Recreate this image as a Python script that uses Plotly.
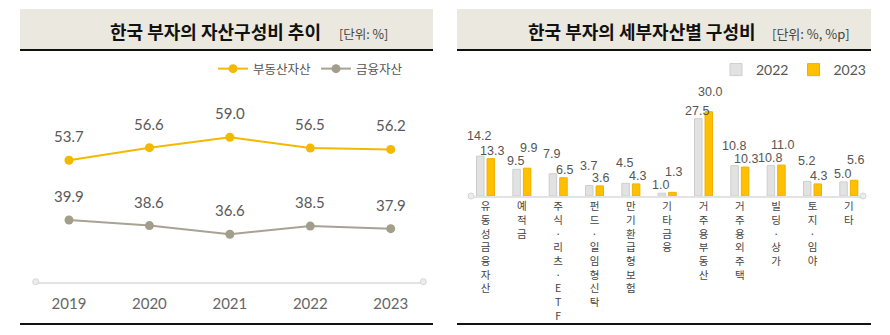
import plotly.graph_objects as go

W, H = 890, 335

# ---------------- data ----------------
years = ["2019", "2020", "2021", "2022", "2023"]
real_estate = [53.7, 56.6, 59.0, 56.5, 56.2]
financial = [39.9, 38.6, 36.6, 38.5, 37.9]

categories = ["유동성금융자산", "예적금", "주식·리츠·ETF", "펀드·일임형 신탁", "만기환급형보험",
              "기타금융", "거주용부동산", "거주용외주택", "빌딩·상가", "토지·임야", "기타"]
share_2022 = [14.2, 9.5, 7.9, 3.7, 4.5, 1.0, 27.5, 10.8, 10.8, 5.2, 5.0]
share_2023 = [13.3, 9.9, 6.5, 3.6, 4.3, 1.3, 30.0, 10.3, 11.0, 4.3, 5.6]

# ---------------- helpers ----------------
def px_x(p):
    return p / W

def px_y(p):
    return 1 - p / H

NUM_FONT = "Lato, 'Noto Sans', sans-serif"
KR_FONT = "'Noto Sans CJK KR', 'Noto Sans', sans-serif"
NARROW_FONT = "'Liberation Sans Narrow', 'Liberation Sans', sans-serif"
YELLOW = "#f5b800"
GRAYLINE = "#a8a294"
BAR_GRAY = "#e2e2e2"
BAR_YELLOW = "#ffc000"

fig = go.Figure()

xi = list(range(len(years)))
fig.add_trace(go.Scatter(
    x=xi, y=real_estate, mode="lines+markers", name="부동산자산",
    line=dict(color=YELLOW, width=2), marker=dict(size=9, color=YELLOW),
    xaxis="x", yaxis="y", legend="legend", cliponaxis=False))
fig.add_trace(go.Scatter(
    x=xi, y=financial, mode="lines+markers", name="금융자산",
    line=dict(color=GRAYLINE, width=2), marker=dict(size=9, color="#a39d8c"),
    xaxis="x", yaxis="y", legend="legend", cliponaxis=False))

ci = list(range(len(categories)))
fig.add_trace(go.Bar(
    x=ci, y=share_2022, name="2022",
    marker=dict(color=BAR_GRAY, line=dict(color="#cdcdcd", width=1)),
    xaxis="x2", yaxis="y2", legend="legend2"))
fig.add_trace(go.Bar(
    x=ci, y=share_2023, name="2023",
    marker=dict(color=BAR_YELLOW, line=dict(color="#f0b000", width=1)),
    xaxis="x2", yaxis="y2", legend="legend2"))

annotations = []
# point labels on line chart
for series in (real_estate, financial):
    for i, v in enumerate(series):
        annotations.append(dict(
            x=i, y=v, xref="x", yref="y", text=f"{v:.1f}", showarrow=False,
            yshift=24, font=dict(family=NUM_FONT, size=15, color="#595959")))

# bar labels
bargap = 0.42
half = (1 - bargap) / 4
for i in ci:
    a, b = share_2022[i], share_2023[i]
    for k, v in enumerate((a, b)):
        other = b if k == 0 else a
        shift = 20 if v > other else 8
        annotations.append(dict(
            x=i + (-half if k == 0 else half), y=v, xref="x2", yref="y2",
            text=f"{v:.1f}", showarrow=False, yshift=shift, yanchor="middle",
            xshift=-1 if k == 0 else 1,
            font=dict(family=NARROW_FONT, size=12.5, color="#555555")))

# titles
annotations += [
    dict(x=px_x(215.5), y=px_y(31), xref="paper", yref="paper", showarrow=False,
         text="<b>한국 부자의 자산구성비 추이</b>", xanchor="center", yanchor="middle",
         font=dict(family=KR_FONT, size=18, color="#111111")),
    dict(x=px_x(337), y=px_y(33), xref="paper", yref="paper", showarrow=False,
         text="[단위: %]", xanchor="left", yanchor="middle",
         font=dict(family=KR_FONT, size=12.5, color="#444444")),
    dict(x=px_x(641.5), y=px_y(31), xref="paper", yref="paper", showarrow=False,
         text="<b>한국 부자의 세부자산별 구성비</b>", xanchor="center", yanchor="middle",
         font=dict(family=KR_FONT, size=18, color="#111111")),
    dict(x=px_x(770), y=px_y(33), xref="paper", yref="paper", showarrow=False,
         text="[단위: %, %p]", xanchor="left", yanchor="middle",
         font=dict(family=KR_FONT, size=13, color="#444444")),
]

shapes = []
BEIGE = "#ebe8df"
for x0, x1 in ((20, 433), (457, 871)):
    shapes.append(dict(type="rect", xref="paper", yref="paper",
                       x0=px_x(x0), x1=px_x(x1), y0=px_y(49), y1=px_y(9),
                       fillcolor=BEIGE, line=dict(width=0), layer="below"))
    shapes.append(dict(type="line", xref="paper", yref="paper",
                       x0=px_x(x0), x1=px_x(x1), y0=px_y(50), y1=px_y(50),
                       line=dict(color="#111111", width=2)))
    shapes.append(dict(type="line", xref="paper", yref="paper",
                       x0=px_x(x0), x1=px_x(x1), y0=px_y(324), y1=px_y(324),
                       line=dict(color="#111111", width=2)))

# axis end circles
def end_circle(cx, cy, r=3):
    return dict(type="circle", xref="paper", yref="paper",
                x0=px_x(cx - r), x1=px_x(cx + r), y0=px_y(cy + r), y1=px_y(cy - r),
                fillcolor="#ececec", line=dict(color="#d6d6d6", width=1))

for cx, cy in ((35.7, 281.7), (423.3, 281.7), (471, 196), (863, 196)):
    shapes.append(end_circle(cx, cy))

def stack(label):
    return "<br>".join(ch for ch in label if ch != " ")

fig.update_layout(
    width=W, height=H, margin=dict(l=0, r=0, t=0, b=0),
    paper_bgcolor="white", plot_bgcolor="white",
    barmode="group", bargap=bargap, bargroupgap=0.29,
    font=dict(family=KR_FONT, color="#555555"),
    xaxis=dict(domain=[px_x(35.7), px_x(423.3)], range=[-0.414, 4.405],
               tickvals=xi, ticktext=years, showgrid=False, zeroline=False,
               showline=True, linecolor="#e3e3e3", linewidth=1.5, ticks="",
               tickfont=dict(family=NUM_FONT, size=15, color="#666666"),
               ticklabelstandoff=8, fixedrange=True),
    yaxis=dict(domain=[px_y(281.7), px_y(90)], range=[25.65, 69.92],
               visible=False, fixedrange=True),
    xaxis2=dict(domain=[px_x(471), px_x(863)], range=[-0.4, 10.39],
                tickvals=ci, ticktext=[stack(c) for c in categories],
                showgrid=False, zeroline=False, showline=True, linecolor="#e3e3e3",
                linewidth=1.5, ticks="", tickangle=0,
                tickfont=dict(family=KR_FONT, size=10.5, color="#444444"),
                fixedrange=True, anchor="y2"),
    yaxis2=dict(domain=[px_y(196), px_y(90)], range=[0, 106 / 2.81],
                visible=False, fixedrange=True, anchor="x2"),
    legend=dict(orientation="h", x=px_x(213), y=px_y(69), xanchor="left",
                yanchor="middle", bgcolor="rgba(0,0,0,0)",
                font=dict(family=KR_FONT, size=12.5, color="#555555")),
    legend2=dict(orientation="h", x=px_x(716), y=px_y(70), xanchor="left",
                 yanchor="middle", bgcolor="rgba(0,0,0,0)",
                 font=dict(family=NUM_FONT, size=14, color="#555555")),
    annotations=annotations, shapes=shapes,
)

fig.write_html("out.html", config={"displayModeBar": False})
